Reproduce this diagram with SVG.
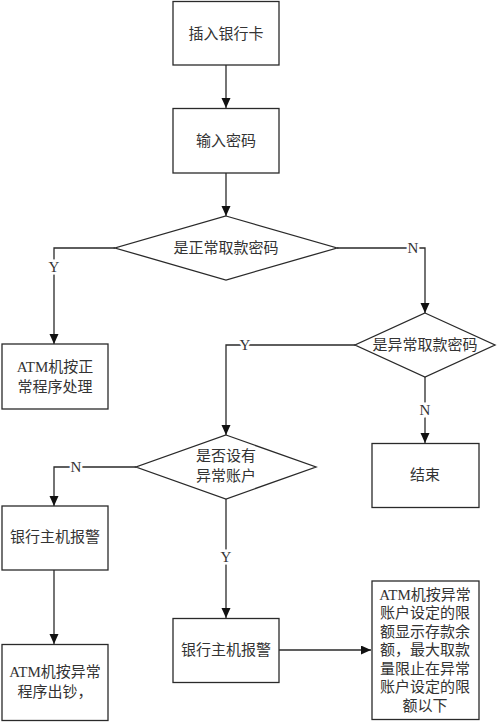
<svg xmlns="http://www.w3.org/2000/svg" width="500" height="723" viewBox="0 0 500 723">
<style>
.box{fill:#fff;stroke:#2a2a2a;stroke-width:1.3}
.t{font-family:"Liberation Serif","Noto Sans CJK SC",serif;font-size:15px;fill:#333;text-anchor:middle;dominant-baseline:central}
.c{fill:none;stroke:#2a2a2a;stroke-width:1.3}
.lbl{font-family:"Liberation Serif",serif;font-size:15px;fill:#333;text-anchor:middle;dominant-baseline:central;stroke:#fff;stroke-width:5;paint-order:stroke}
</style>
<defs>
<marker id="ah" markerUnits="userSpaceOnUse" markerWidth="10" markerHeight="10" refX="10" refY="4.5" orient="auto">
<path d="M0,0 L10,4.5 L0,9 z" fill="#111"/>
</marker>
</defs>
<rect width="500" height="723" fill="#fff"/>
<g id="connectors">
<path class="c" d="M226,65 V108" marker-end="url(#ah)"/>
<path class="c" d="M226,173 V216" marker-end="url(#ah)"/>
<path class="c" d="M115,248 H54 V344" marker-end="url(#ah)"/>
<path class="c" d="M337,248 H425 V313" marker-end="url(#ah)"/>
<path class="c" d="M355,345 H226 V435" marker-end="url(#ah)"/>
<path class="c" d="M425,377 V443" marker-end="url(#ah)"/>
<path class="c" d="M136,467 H54 V506" marker-end="url(#ah)"/>
<path class="c" d="M54,570 V644" marker-end="url(#ah)"/>
<path class="c" d="M226,499 V618" marker-end="url(#ah)"/>
<path class="c" d="M279,650 H371" marker-end="url(#ah)"/>
<text class="lbl" x="54" y="267">Y</text>
<text class="lbl" x="413" y="248">N</text>
<text class="lbl" x="245" y="345">Y</text>
<text class="lbl" x="425" y="410">N</text>
<text class="lbl" x="76" y="467">N</text>
<text class="lbl" x="226" y="557">Y</text>
</g>
<g id="n1">
<rect class="box" x="173" y="1.5" width="106" height="63.5"/>
<text class="t" x="226" y="34">插入银行卡</text>
</g>
<g id="n2">
<rect class="box" x="173" y="108.5" width="106" height="64.5"/>
<text class="t" x="226" y="141">输入密码</text>
</g>
<g id="d1">
<polygon class="box" points="226,216 337,248 226,280 115,248"/>
<text class="t" x="226" y="248">是正常取款密码</text>
</g>
<g id="n3">
<rect class="box" x="2" y="344" width="106" height="65"/>
<text class="t" x="55" y="367">ATM机按正</text>
<text class="t" x="55" y="387">常程序处理</text>
</g>
<g id="d2">
<polygon class="box" points="425,313 495,345 425,377 355,345"/>
<text class="t" x="425" y="345">是异常取款密码</text>
</g>
<g id="n4">
<rect class="box" x="372" y="443.5" width="107" height="64"/>
<text class="t" x="425" y="475">结束</text>
</g>
<g id="d3">
<polygon class="box" points="226,435 316,467 226,499 136,467"/>
<text class="t" x="226" y="456">是否设有</text>
<text class="t" x="226" y="476">异常账户</text>
</g>
<g id="n5">
<rect class="box" x="2" y="506" width="106" height="64"/>
<text class="t" x="55" y="537">银行主机报警</text>
</g>
<g id="n6">
<rect class="box" x="2" y="644.5" width="106" height="76"/>
<text class="t" x="55" y="672">ATM机按异常</text>
<text class="t" x="55" y="692">程序出钞，</text>
</g>
<g id="n7">
<rect class="box" x="173" y="618.5" width="106" height="64"/>
<text class="t" x="226" y="650">银行主机报警</text>
</g>
<g id="n8">
<rect class="box" x="372" y="581" width="107" height="138.5"/>
<text class="t" x="425" y="594.5">ATM机按异常</text>
<text class="t" x="425" y="613">账户设定的限</text>
<text class="t" x="425" y="631.5">额显示存款余</text>
<text class="t" x="425" y="650">额，最大取款</text>
<text class="t" x="425" y="668.5">量限止在异常</text>
<text class="t" x="425" y="687">账户设定的限</text>
<text class="t" x="425" y="705.5">额以下</text>
</g>
</svg>
